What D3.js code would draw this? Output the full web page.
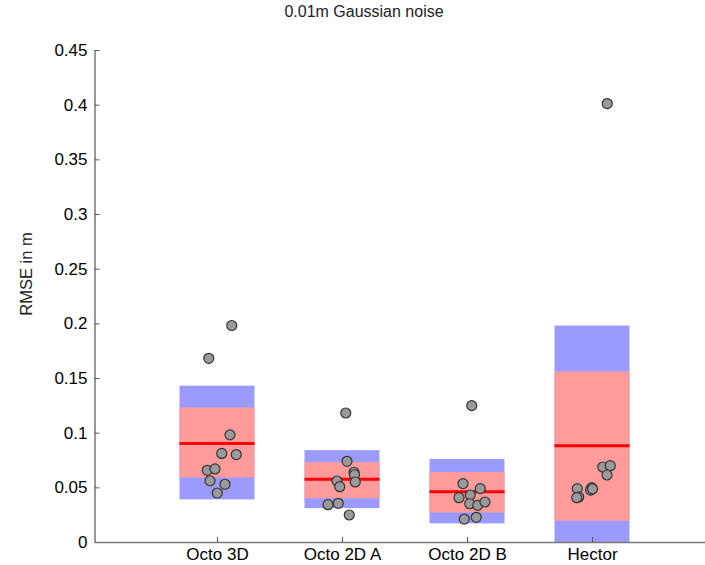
<!DOCTYPE html>
<html>
<head>
<meta charset="utf-8">
<script src="https://cdn.jsdelivr.net/npm/d3@7"></script>
<style>
  body { margin: 0; background: #fff; }
  svg { font-family: "Liberation Sans", Arial, Helvetica, sans-serif; }
</style>
</head>
<body>
<div class="chart"></div>
<script>
// categories and tick labels
var categories = ["Octo 3D", "Octo 2D A", "Octo 2D B", "Hector"];
var yTicks = [0, 0.05, 0.1, 0.15, 0.2, 0.25, 0.3, 0.35, 0.4, 0.45];

// box statistics per category (blue = outer band, pink = inner band, red = mean)
var outerLow  = [0.039, 0.031, 0.017, 0.0];
var outerHigh = [0.143, 0.084, 0.076, 0.198];
var innerLow  = [0.059, 0.040, 0.027, 0.0195];
var innerHigh = [0.123, 0.073, 0.064, 0.156];
var means     = [0.090, 0.0575, 0.046, 0.088];

// individual runs (RMSE) and their horizontal jitter in category units
var runs = [
    [0.198, 0.168, 0.098, 0.081, 0.080, 0.0656, 0.0668, 0.056, 0.0528, 0.0448],
    [0.118, 0.0738, 0.0638, 0.0615, 0.0558, 0.0506, 0.0549, 0.0341, 0.0354, 0.0247],
    [0.1247, 0.0534, 0.0488, 0.043, 0.0405, 0.035, 0.0335, 0.0366, 0.021, 0.0226],
    [0.401, 0.0686, 0.0698, 0.0613, 0.0497, 0.0475, 0.0485, 0.0488, 0.0412, 0.0405]
];
var jitter = [
    [0.118, -0.066, 0.104, 0.038, 0.154, -0.078, -0.016, -0.056, 0.064, 0.002],
    [0.03, 0.04, 0.096, 0.1, -0.04, -0.018, 0.106, -0.112, -0.03, 0.058],
    [0.038, -0.032, 0.106, 0.026, -0.064, 0.022, 0.086, 0.144, -0.022, 0.074],
    [0.122, 0.086, 0.146, 0.12, -0.002, -0.012, 0.004, -0.118, -0.106, -0.122]
];

var width = 705;
var height = 565;
var boxHalf = 0.3;

var svg = d3.select(".chart")
    .append("svg")
    .attr("width", width)
    .attr("height", height);

//////// scales
var x = d3.scaleLinear().domain([0.02, 4.92]).range([94.5, 707]);
var y = d3.scaleLinear().domain([0, 0.45]).range([542, 50]);

//////// boxes
var groups = svg.selectAll("g.group")
    .data(categories)
    .enter()
    .append("g")
    .attr("class", "group");

groups.append("rect")
    .attr("x", function(d, i) { return x(i + 1 - boxHalf); })
    .attr("width", function(d, i) { return x(i + 1 + boxHalf) - x(i + 1 - boxHalf); })
    .attr("y", function(d, i) { return y(outerHigh[i]); })
    .attr("height", function(d, i) { return y(outerLow[i]) - y(outerHigh[i]); })
    .attr("fill", "#9b9bff");

groups.append("rect")
    .attr("x", function(d, i) { return x(i + 1 - boxHalf); })
    .attr("width", function(d, i) { return x(i + 1 + boxHalf) - x(i + 1 - boxHalf); })
    .attr("y", function(d, i) { return y(innerHigh[i]); })
    .attr("height", function(d, i) { return y(innerLow[i]) - y(innerHigh[i]); })
    .attr("fill", "#ff9b9b");

groups.append("line")
    .attr("x1", function(d, i) { return x(i + 1 - boxHalf); })
    .attr("x2", function(d, i) { return x(i + 1 + boxHalf); })
    .attr("y1", function(d, i) { return y(means[i]); })
    .attr("y2", function(d, i) { return y(means[i]); })
    .attr("stroke", "#ff0000")
    .attr("stroke-width", 3);

//////// points
groups.each(function(d, i) {
    var pts = runs[i].map(function(v, j) { return { v: v, dx: jitter[i][j] }; });
    d3.select(this).selectAll("circle")
        .data(pts)
        .enter()
        .append("circle")
        .attr("cx", function(p) { return x(i + 1 + p.dx); })
        .attr("cy", function(p) { return y(p.v); })
        .attr("r", 5)
        .attr("fill", "#9a9a9a")
        .attr("stroke", "#333")
        .attr("stroke-width", 1.2);
});

//////// axes
var yAxis = d3.axisRight(y)
    .tickValues(yTicks)
    .tickFormat(function(d) { return d3.format("")(+d.toFixed(2)); })
    .tickSize(5)
    .tickSizeOuter(0);

var yg = svg.append("g")
    .attr("transform", "translate(" + x(0.02) + ",0)")
    .call(yAxis);
yg.select(".domain").attr("stroke", "#777").attr("stroke-width", 1.5);
yg.selectAll(".tick line").attr("stroke", "#555");
yg.selectAll(".tick text")
    .attr("x", -7)
    .attr("text-anchor", "end")
    .attr("font-size", 17)
    .attr("fill", "#000");

var xAxis = d3.axisTop(x)
    .tickValues([1, 2, 3, 4])
    .tickFormat(function(d) { return categories[d - 1]; })
    .tickSize(5)
    .tickSizeOuter(0);

var xg = svg.append("g")
    .attr("transform", "translate(0," + y(0) + ")")
    .call(xAxis);
xg.select(".domain").attr("stroke", "#777").attr("stroke-width", 1.5);
xg.selectAll(".tick line").attr("stroke", "#555");
xg.selectAll(".tick text")
    .attr("y", 18)
    .attr("dy", 0)
    .attr("font-size", 17)
    .attr("fill", "#000");

//////// title and label
svg.append("text")
    .attr("x", 364)
    .attr("y", 17)
    .attr("text-anchor", "middle")
    .attr("font-size", 16)
    .attr("fill", "#222")
    .text("0.01m Gaussian noise");

svg.append("text")
    .attr("transform", "translate(32,274) rotate(-90)")
    .attr("text-anchor", "middle")
    .attr("font-size", 16.5)
    .attr("fill", "#222")
    .text("RMSE in m");
</script>
</body>
</html>
